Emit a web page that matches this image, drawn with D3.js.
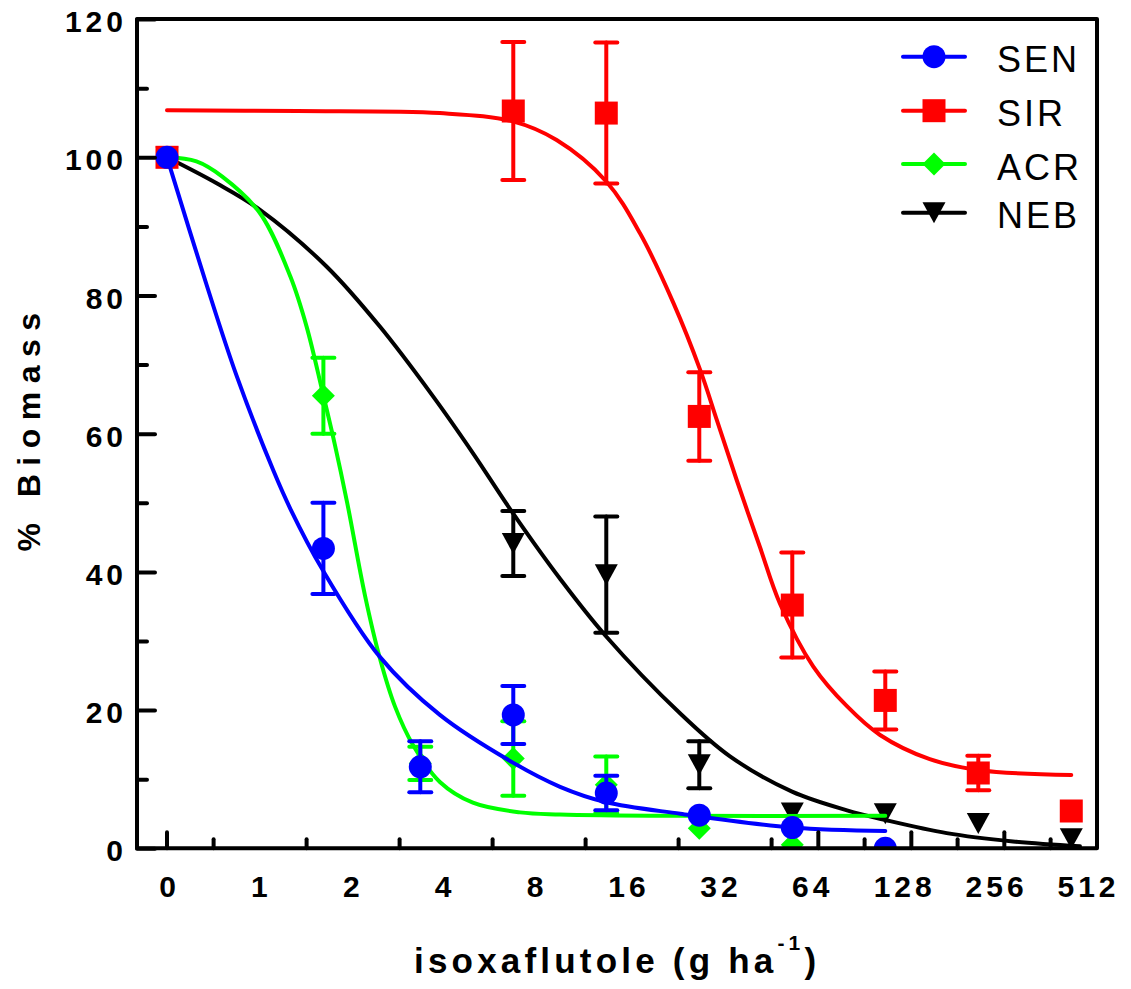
<!DOCTYPE html>
<html>
<head>
<meta charset="utf-8">
<script src="https://cdnjs.cloudflare.com/ajax/libs/d3/7.8.5/d3.min.js"></script>
<style>
  body { margin: 0; background: #fff; }
  svg { display: block; font-family: Arial, "Liberation Sans", sans-serif; }
</style>
</head>
<body>
<script>
// doses (g ha-1) where the measured points sit
var doses = [0, 1.7, 3.5, 7, 14, 28, 56, 112, 224, 448];

// % biomass, mean and error (null = no point)
var senMean = [100, 43.4, 11.8, 19.3, 8.0, 4.8, 3.0, 0, null, null];
var senErr  = [0, 6.6, 3.7, 4.2, 2.5, 0, 0, 0, 0, 0];
var sirMean = [100, null, null, 106.7, 106.4, 62.5, 35.2, 21.4, 10.9, 5.4];
var sirErr  = [0, 0, 0, 10.0, 10.2, 6.4, 7.6, 4.2, 2.5, 0];
var acrMean = [100, 65.5, 12.3, 13.0, 9.2, 2.9, 0.5, null, null, null];
var acrErr  = [0, 5.5, 2.4, 5.4, 4.1, 0, 0, 0, 0, 0];
var nebMean = [100, null, null, 44.1, 39.6, 12.1, 5.1, 5.0, 3.6, 1.4];
var nebErr  = [0, 0, 0, 4.7, 8.4, 3.4, 0, 0, 0, 0];

// fitted curves (dose, % biomass)
var senCurveX = [0, 0.71, 0.89, 1.17, 1.33, 1.69, 2.59, 4.05, 6.98, 9.92, 13.9, 24.3, 55.9, 112];
var senCurveY = [100, 81.7, 68.4, 54.7, 49.1, 40.3, 27.7, 19.3, 12.4, 8.9, 6.7, 5.0, 3.0, 2.5];
var sirCurveX = [0, 1.4, 4.05, 6.98, 9.67, 14.0, 18.0, 23.1, 28.2, 31.9, 37.0, 44.0, 51.1, 65.5, 84.0, 107.7, 156, 227, 448];
var sirCurveY = [106.8, 106.7, 106.4, 105.2, 102.5, 96.5, 89.0, 78.9, 69.2, 62.0, 53.3, 43.6, 35.4, 26.3, 20.6, 16.4, 12.9, 11.3, 10.6];
var acrCurveX = [0, 0.66, 0.8, 1.06, 1.33, 1.5, 1.69, 1.85, 2.03, 2.32, 2.59, 2.9, 3.31, 4.05, 5.18, 7.36, 9.92, 24.3, 112];
var acrCurveY = [100, 99.4, 97.2, 91.9, 82.7, 75.5, 66.0, 58.5, 50.0, 36.5, 27.5, 20.5, 15.0, 9.6, 6.6, 5.2, 4.9, 4.7, 4.7];
var nebCurveX = [0, 0.77, 1.06, 1.74, 2.59, 3.85, 5.18, 6.98, 9.92, 13.9, 24.3, 35.2, 55.9, 84.2, 112, 177, 290, 478];
var nebCurveY = [100, 96.2, 92.4, 84.2, 75.5, 65.4, 57.2, 48.5, 39.0, 30.8, 19.5, 13.3, 8.2, 5.5, 4.1, 2.2, 1.0, 0.3];

var seriesNames = ["SEN", "SIR", "ACR", "NEB"];
var seriesColors = ["#0000ff", "#ff0000", "#00ff00", "#000000"];
var seriesSymbols = ["circle", "square", "diamond", "triangle"];

// axis ticks and labels
var xLabels = ["0", "1", "2", "4", "8", "16", "32", "64", "128", "256", "512"];
var xMinorTicks = [0.75, 1.5, 3, 6, 12, 24, 48, 96, 192, 384];
var xMajorTicks = [0, 68, 136, 272];
var yMajorTicks = [0, 20, 40, 60, 80, 100, 120];
var yMinorTicks = [10, 30, 50, 70, 90, 110];

var means = [senMean, sirMean, acrMean, nebMean];
var errs = [senErr, sirErr, acrErr, nebErr];
var curvesX = [senCurveX, sirCurveX, acrCurveX, nebCurveX];
var curvesY = [senCurveY, sirCurveY, acrCurveY, nebCurveY];

var width = 1131, height = 989;
var xLeft = 137, xRight = 1097, xZero = 167;

var svg = d3.select("body").append("svg")
            .attr("width", width)
            .attr("height", height);

var y = d3.scaleLinear().domain([0, 120]).range([848.3, 19.1]);
var x = d3.scaleLog().base(2).domain([1, 512]).range([252.2, 1089.2]);
var labelX = d3.scalePoint().domain(xLabels).range([167, 1086]);

function xPos(d) {
  return d === 0 ? xZero : x(d);
}

function symbolPath(type) {
  if (type == "circle") return d3.symbol(d3.symbolCircle, Math.PI * 11.5 * 11.5)();
  if (type == "square") return "M-11.5,-11.5H11.5V11.5H-11.5Z";
  if (type == "diamond") return "M0,-11.5L11.5,0L0,11.5L-11.5,0Z";
  return "M-11.5,-10.5L11.5,-10.5L0,10.5Z";
}

svg.append("defs").append("clipPath").attr("id", "clip")
   .append("rect")
   .attr("x", 0).attr("y", 0)
   .attr("width", width).attr("height", y(0));

var plot = svg.append("g").attr("clip-path", "url(#clip)");

var line = d3.line()
             .x(function(d) { return xPos(d[0]); })
             .y(function(d) { return y(d[1]); })
             .curve(d3.curveCatmullRom.alpha(0.5));

// NEB at the bottom, SEN on top
[3, 2, 1, 0].forEach(function(i) {
  var color = seriesColors[i];
  var g = plot.append("g");

  var pts = curvesX[i].map(function(d, k) { return [d, curvesY[i][k]]; });
  g.append("path")
   .attr("d", line(pts))
   .attr("fill", "none")
   .attr("stroke", color)
   .attr("stroke-width", 4)
   .attr("stroke-linejoin", "round")
   .attr("stroke-linecap", "round");

  var pd = doses.map(function(d, k) {
    return { dose: d, mean: means[i][k], err: errs[i][k] };
  }).filter(function(p) { return p.mean !== null; });

  var bars = g.selectAll(".bar").data(pd.filter(function(p) { return p.err > 0; }))
              .enter().append("g")
              .attr("stroke", color)
              .attr("stroke-width", 4)
              .attr("stroke-linecap", "round");
  bars.append("line")
      .attr("x1", function(p) { return xPos(p.dose); })
      .attr("x2", function(p) { return xPos(p.dose); })
      .attr("y1", function(p) { return y(p.mean + p.err); })
      .attr("y2", function(p) { return y(p.mean - p.err); });
  [1, -1].forEach(function(s) {
    bars.append("line")
        .attr("x1", function(p) { return xPos(p.dose) - 11; })
        .attr("x2", function(p) { return xPos(p.dose) + 11; })
        .attr("y1", function(p) { return y(p.mean + s * p.err); })
        .attr("y2", function(p) { return y(p.mean + s * p.err); });
  });

  g.selectAll(".pt").data(pd)
   .enter().append("path")
   .attr("d", symbolPath(seriesSymbols[i]))
   .attr("transform", function(p) { return "translate(" + xPos(p.dose) + "," + y(p.mean) + ")"; })
   .attr("fill", color);
});

// frame
svg.append("path")
   .attr("d", "M" + xLeft + "," + y(120) + "V" + y(0) + "H" + xRight + "V" + y(120) + "Z")
   .attr("fill", "none")
   .attr("stroke", "#000")
   .attr("stroke-width", 4)
   .attr("stroke-linejoin", "round");

// y axis
var yAxis = svg.append("g")
   .attr("transform", "translate(" + xLeft + ",0)")
   .call(d3.axisLeft(y).tickValues(yMajorTicks).tickSizeInner(-18).tickSizeOuter(0).tickPadding(10));
svg.append("g")
   .attr("transform", "translate(" + xLeft + ",0)")
   .call(d3.axisLeft(y).tickValues(yMinorTicks).tickSizeInner(-10).tickSizeOuter(0).tickFormat(""))
   .call(function(a) { a.select(".domain").remove(); a.selectAll("line").attr("stroke-width", 4).attr("stroke-linecap", "round"); });
yAxis.select(".domain").remove();
yAxis.selectAll("line").attr("stroke-width", 4).attr("stroke-linecap", "round");
yAxis.selectAll("text")
     .attr("font-family", "Arial, 'Liberation Sans', sans-serif")
     .attr("font-size", 30)
     .attr("font-weight", "bold")
     .attr("letter-spacing", 4)
     .attr("dy", "0.42em")
     .attr("fill", "#000");

// x ticks
svg.append("g").selectAll("line").data(xMinorTicks)
   .enter().append("line")
   .attr("x1", function(d) { return xPos(d); }).attr("x2", function(d) { return xPos(d); })
   .attr("y1", y(0)).attr("y2", y(0) - 9)
   .attr("stroke", "#000").attr("stroke-width", 4).attr("stroke-linecap", "round");
svg.append("g").selectAll("line").data(xMajorTicks)
   .enter().append("line")
   .attr("x1", function(d) { return xPos(d); }).attr("x2", function(d) { return xPos(d); })
   .attr("y1", y(0)).attr("y2", y(0) - 16)
   .attr("stroke", "#000").attr("stroke-width", 4).attr("stroke-linecap", "round");

// x labels
var xAxis = svg.append("g")
   .attr("transform", "translate(0," + y(0) + ")")
   .call(d3.axisBottom(labelX).tickSize(0).tickPadding(27));
xAxis.select(".domain").remove();
xAxis.selectAll("text")
     .attr("font-family", "Arial, 'Liberation Sans', sans-serif")
     .attr("font-size", 30)
     .attr("font-weight", "bold")
     .attr("letter-spacing", 4)
     .attr("dx", 2)
     .attr("fill", "#000");

// axis titles
svg.append("text")
   .attr("transform", "translate(40,432) rotate(-90)")
   .attr("text-anchor", "middle")
   .attr("dx", 4)
   .attr("font-size", 32)
   .attr("font-weight", "bold")
   .attr("letter-spacing", 8.5)
   .text("% Biomass");

var xt = svg.append("text")
   .attr("x", 414)
   .attr("y", 973)
   .attr("font-size", 35)
   .attr("font-weight", "bold")
   .attr("letter-spacing", 4.2);
xt.append("tspan").text("isoxaflutole (g ha");
xt.append("tspan").attr("font-size", 21).attr("dy", -23).text("-1");
xt.append("tspan").attr("dy", 23).text(")");

// legend
var legend = svg.append("g").selectAll("g").data(seriesNames)
   .enter().append("g")
   .attr("transform", function(d, i) { return "translate(934," + [56.7, 110.7, 164, 212.7][i] + ")"; });
legend.append("line")
   .attr("x1", -31).attr("x2", 31)
   .attr("stroke", function(d, i) { return seriesColors[i]; })
   .attr("stroke-width", 4)
   .attr("stroke-linecap", "round");
legend.append("path")
   .attr("d", function(d, i) { return symbolPath(seriesSymbols[i]); })
   .attr("fill", function(d, i) { return seriesColors[i]; });
legend.append("text")
   .attr("x", 63)
   .attr("y", 15.5)
   .attr("font-size", 36)
   .attr("letter-spacing", 3)
   .text(function(d) { return d; });
</script>
</body>
</html>
